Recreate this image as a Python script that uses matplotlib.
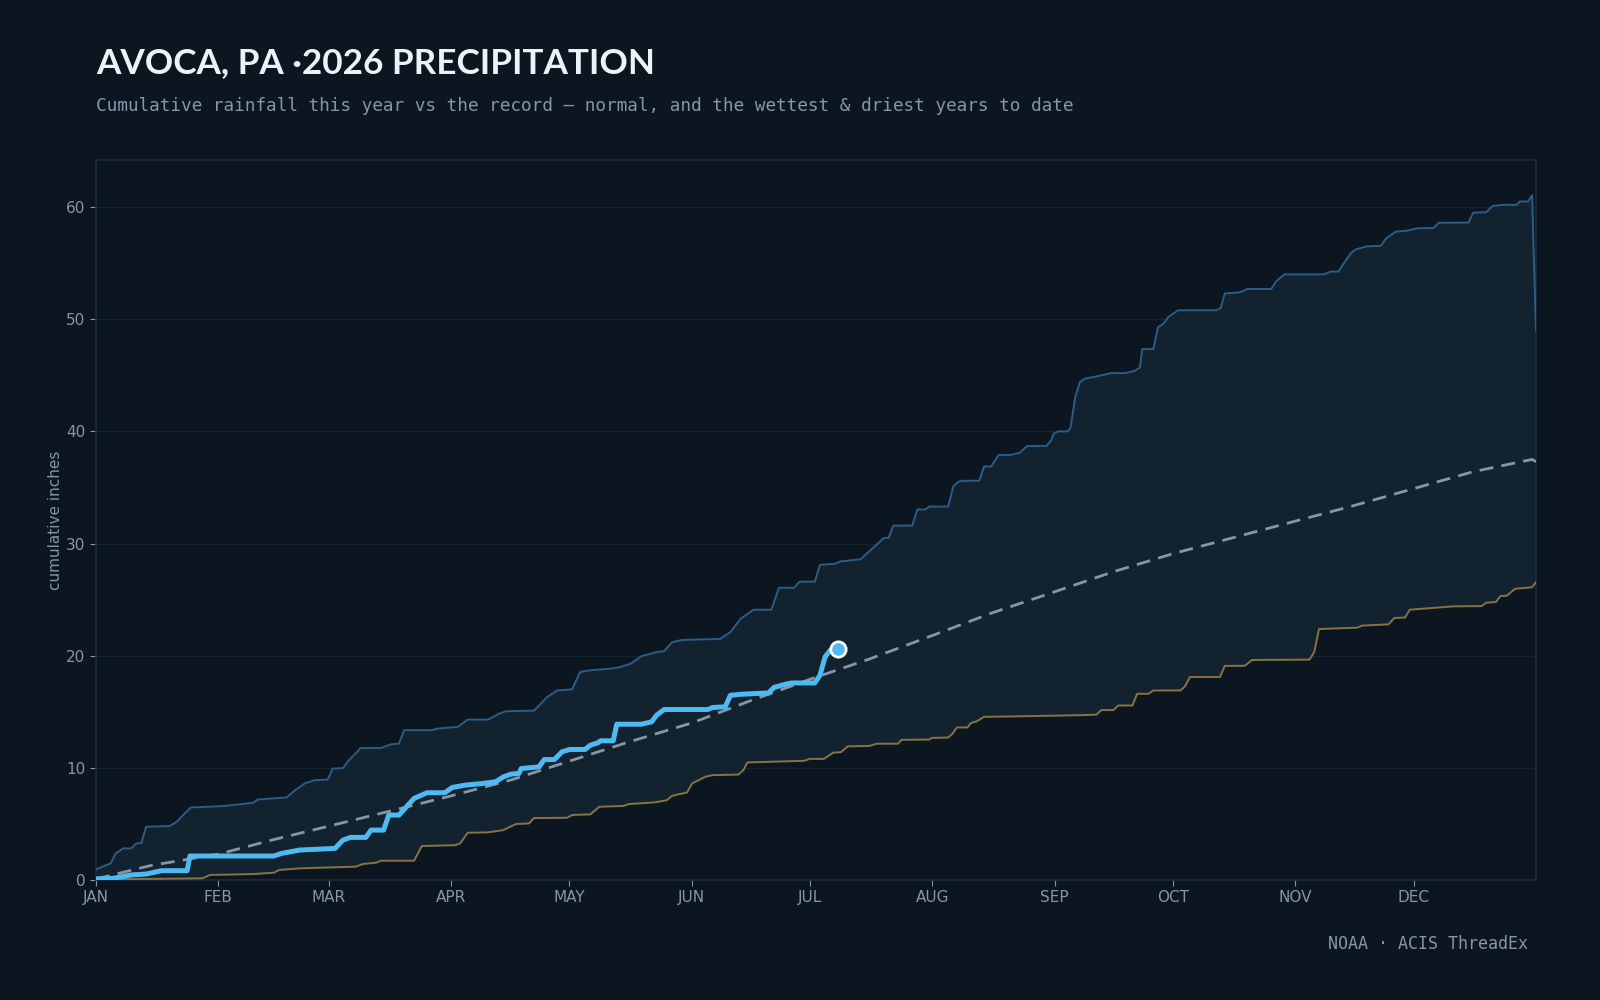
import numpy as np
import matplotlib
matplotlib.use("Agg")
import matplotlib.pyplot as plt

# (day of year, cumulative inches), day 0 = Jan 1
this_year = [(0, 0.1), (4.4, 0.15), (8.9, 0.45), (12.7, 0.53), (16.6, 0.83), (23.1, 0.83),
             (23.8, 2.14), (45.1, 2.14), (47.0, 2.37), (51.6, 2.67), (60.6, 2.82), (62.6, 3.56),
             (64.5, 3.80), (68.4, 3.80), (69.7, 4.45), (72.9, 4.45), (74.2, 5.79), (76.8, 5.79),
             (78.7, 6.53), (80.6, 7.27), (83.9, 7.78), (88.4, 7.78), (90.3, 8.25), (93.6, 8.46),
             (98.1, 8.61), (101.3, 8.76), (103.3, 9.20), (105.2, 9.44), (107.2, 9.50),
             (107.8, 9.94), (112.3, 10.09), (113.6, 10.74), (116.2, 10.74), (118.1, 11.43),
             (120.1, 11.64), (124.0, 11.64), (125.3, 12.02), (127.2, 12.23), (127.9, 12.41),
             (131.1, 12.41), (132.0, 13.89), (138.2, 13.89), (140.8, 14.10), (142.1, 14.69),
             (144.0, 15.20), (155.0, 15.20), (156.3, 15.38), (159.5, 15.44), (160.8, 16.47),
             (163.4, 16.56), (170.5, 16.68), (171.8, 17.16), (173.8, 17.37), (176.3, 17.57),
             (182.2, 17.57), (183.5, 18.25), (184.8, 19.89), (186.1, 20.48), (188.0, 20.60)]

wettest = [(0, 0.95), (3.7, 1.48), (5.0, 2.37), (6.9, 2.82), (8.9, 2.82), (10.2, 3.26),
           (11.5, 3.30), (12.7, 4.75), (18.6, 4.80), (20.5, 5.20), (22.5, 5.94), (24.1, 6.47),
           (32.2, 6.59), (39.9, 6.89), (41.0, 7.18), (48.3, 7.36), (50.3, 7.96), (52.9, 8.61),
           (55.4, 8.90), (58.7, 8.95), (60.0, 9.94), (62.6, 9.97), (63.9, 10.59), (66.4, 11.50),
           (67.0, 11.77), (72.2, 11.77), (74.8, 12.10), (76.8, 12.16), (78.1, 13.36),
           (85.2, 13.36), (86.5, 13.50), (91.7, 13.65), (94.2, 14.30), (99.4, 14.30),
           (102.0, 14.81), (103.9, 15.05), (111.0, 15.10), (112.3, 15.55), (114.3, 16.30),
           (116.9, 16.90), (120.7, 17.00), (122.7, 18.55), (125.3, 18.70), (130.4, 18.84),
           (133.0, 19.00), (135.6, 19.30), (138.2, 19.95), (142.1, 20.33), (144.0, 20.40),
           (146.0, 21.20), (148.5, 21.40), (158.2, 21.50), (160.8, 22.10), (163.4, 23.30),
           (166.7, 24.10), (171.2, 24.10), (173.1, 26.06), (177.0, 26.06), (178.3, 26.60),
           (182.2, 26.60), (183.5, 28.10), (187.4, 28.20), (188.6, 28.40), (193.8, 28.60),
           (198.5, 30.10), (199.7, 30.50), (200.9, 30.50), (202.1, 31.60), (206.9, 31.60),
           (208.2, 33.04), (210.2, 33.04), (211.2, 33.30), (216.0, 33.30), (217.3, 35.10),
           (218.5, 35.50), (219.7, 35.60), (223.9, 35.60), (225.1, 36.87), (226.9, 36.87),
           (228.8, 37.90), (231.8, 37.90), (234.2, 38.10), (236.0, 38.70), (240.9, 38.70),
           (242.1, 39.20), (242.7, 39.80), (243.9, 40.00), (246.3, 40.00), (247.0, 40.30),
           (248.2, 43.04), (249.4, 44.40), (250.6, 44.70), (253.6, 44.90), (257.3, 45.20),
           (260.9, 45.20), (263.3, 45.40), (264.6, 45.70), (265.2, 47.34), (268.0, 47.34),
           (269.2, 49.30), (270.6, 49.60), (271.8, 50.20), (274.3, 50.80), (283.9, 50.80),
           (285.1, 51.00), (286.1, 52.30), (290.0, 52.40), (291.8, 52.70), (297.9, 52.70),
           (299.1, 53.37), (301.2, 54.00), (311.2, 54.00), (313.0, 54.25), (314.9, 54.25),
           (316.1, 54.90), (318.1, 55.90), (319.1, 56.20), (322.1, 56.50), (325.7, 56.55),
           (327.0, 57.20), (329.4, 57.80), (332.4, 57.90), (334.8, 58.10), (339.1, 58.15),
           (340.3, 58.60), (347.9, 58.62), (349.1, 59.50), (352.4, 59.55), (354.0, 60.10),
           (356.7, 60.20), (360.1, 60.20), (360.9, 60.50), (363.0, 60.50), (364.0, 61.06),
           (365.0, 48.98)]

driest = [(0, 0.05), (27.0, 0.15), (28.9, 0.45), (39.9, 0.53), (45.1, 0.65), (46.4, 0.89),
          (51.6, 1.04), (65.8, 1.19), (67.7, 1.43), (71.0, 1.54), (72.2, 1.72), (80.6, 1.72),
          (82.6, 3.03), (91.0, 3.10), (92.3, 3.26), (94.2, 4.21), (99.4, 4.25), (103.3, 4.45),
          (104.6, 4.69), (106.5, 4.99), (109.8, 5.05), (111.0, 5.52), (119.4, 5.55),
          (120.7, 5.80), (125.3, 5.85), (127.6, 6.53), (133.7, 6.60), (135.0, 6.77),
          (140.8, 6.90), (142.1, 6.95), (144.7, 7.12), (146.0, 7.50), (147.9, 7.66),
          (149.8, 7.80), (151.1, 8.61), (154.4, 9.20), (156.3, 9.35), (162.8, 9.40),
          (164.1, 9.79), (165.1, 10.48), (179.6, 10.63), (180.9, 10.80), (184.5, 10.80),
          (186.9, 11.36), (188.8, 11.40), (190.6, 11.92), (196.0, 11.95), (197.9, 12.15),
          (203.3, 12.15), (204.2, 12.50), (211.2, 12.52), (211.8, 12.67), (216.0, 12.70),
          (217.0, 13.00), (218.2, 13.60), (220.9, 13.60), (221.8, 14.00), (223.3, 14.16),
          (225.1, 14.55), (231.8, 14.58), (250.0, 14.70), (253.6, 14.75), (254.8, 15.15),
          (257.9, 15.15), (259.1, 15.56), (262.7, 15.56), (263.9, 16.60), (266.7, 16.60),
          (268.0, 16.90), (274.9, 16.90), (276.0, 17.26), (277.3, 18.10), (284.9, 18.10),
          (286.1, 19.09), (291.2, 19.10), (293.0, 19.62), (307.6, 19.65), (308.8, 20.33),
          (310.0, 22.38), (319.7, 22.50), (320.9, 22.68), (327.6, 22.80), (329.1, 23.36),
          (331.8, 23.40), (333.0, 24.10), (338.5, 24.25), (344.0, 24.40), (351.2, 24.42),
          (352.4, 24.73), (354.8, 24.78), (356.0, 25.32), (357.6, 25.35), (359.7, 25.97),
          (364.0, 26.10), (365.0, 26.56)]

normal = [(0, 0.1), (14, 1.3), (31, 2.3), (45, 3.6), (59, 4.8), (74, 6.1), (90, 7.5),
          (105, 8.9), (120, 10.6), (135, 12.3), (151, 14.0), (166, 16.0), (181, 17.9),
          (196, 19.7), (212, 21.8), (227, 23.8), (243, 25.7), (258, 27.5), (273, 29.1),
          (288, 30.5), (304, 32.0), (319, 33.4), (334, 34.9), (349, 36.4), (364, 37.5),
          (365, 37.3)]

month_starts = [0, 31, 59, 90, 120, 151, 181, 212, 243, 273, 304, 334]
month_labels = ["JAN", "FEB", "MAR", "APR", "MAY", "JUN", "JUL", "AUG", "SEP", "OCT", "NOV", "DEC"]

BG = "#0b1620"
BAND = "#12222f"
MUTED = "#8596a8"

ty_d, ty_v = np.array(this_year).T
wet_d, wet_v = np.array(wettest).T
dry_d, dry_v = np.array(driest).T
nrm_d, nrm_v = np.array(normal).T

fig = plt.figure(figsize=(16, 10), dpi=100, facecolor=BG)
ax = fig.add_axes([0.06, 0.12, 0.90, 0.72], facecolor=BG)

# record band between wettest and driest
ax.fill(np.r_[wet_d, dry_d[::-1]], np.r_[wet_v, dry_v[::-1]], color=BAND, lw=0, zorder=1)

ax.plot(wet_d, wet_v, color="#2b5d86", lw=1.4, zorder=3)
ax.plot(dry_d, dry_v, color="#8a7245", lw=1.4, zorder=3)
ax.plot(nrm_d, nrm_v, color="#8796a6", lw=2, dashes=(5, 3), zorder=4)
ax.plot(ty_d, ty_v, color="#4fb9f2", lw=3.6, zorder=5,
        solid_capstyle="round", solid_joinstyle="round")
ax.plot(ty_d[-1], ty_v[-1], "o", ms=11, mfc="#4fb9f2", mec="white", mew=2, zorder=6)

ax.set_xlim(0, 365)
ax.set_ylim(0, 64.2)
ax.set_xticks(month_starts)
ax.set_xticklabels(month_labels)
ax.set_yticks([0, 10, 20, 30, 40, 50, 60])
ax.tick_params(colors=MUTED, labelsize=11, length=4, width=0.8)
ax.tick_params(axis="x", pad=3)
ax.grid(axis="y", color="#15252f", lw=1)
ax.set_axisbelow(True)
for s in ax.spines.values():
    s.set_color("#1a2e3f")
    s.set_linewidth(1.2)
ax.set_ylabel("cumulative inches", color=MUTED, fontsize=11, labelpad=2)

fig.text(0.06, 0.937, "AVOCA, PA \u00b72026 PRECIPITATION", color="#eaf2fa", fontsize=25.3,
         fontweight="bold", family="Lato", va="center", ha="left")
fig.text(0.06, 0.894,
         "Cumulative rainfall this year vs the record \u2014 normal, and the wettest & driest years to date",
         color=MUTED, fontsize=12.75, family="DejaVu Sans Mono", va="center", ha="left")
fig.text(0.955, 0.056, "NOAA \u00b7 ACIS ThreadEx", color=MUTED, fontsize=12,
         family="DejaVu Sans Mono", va="center", ha="right")

fig.savefig("out.png", dpi=100, facecolor=BG)
